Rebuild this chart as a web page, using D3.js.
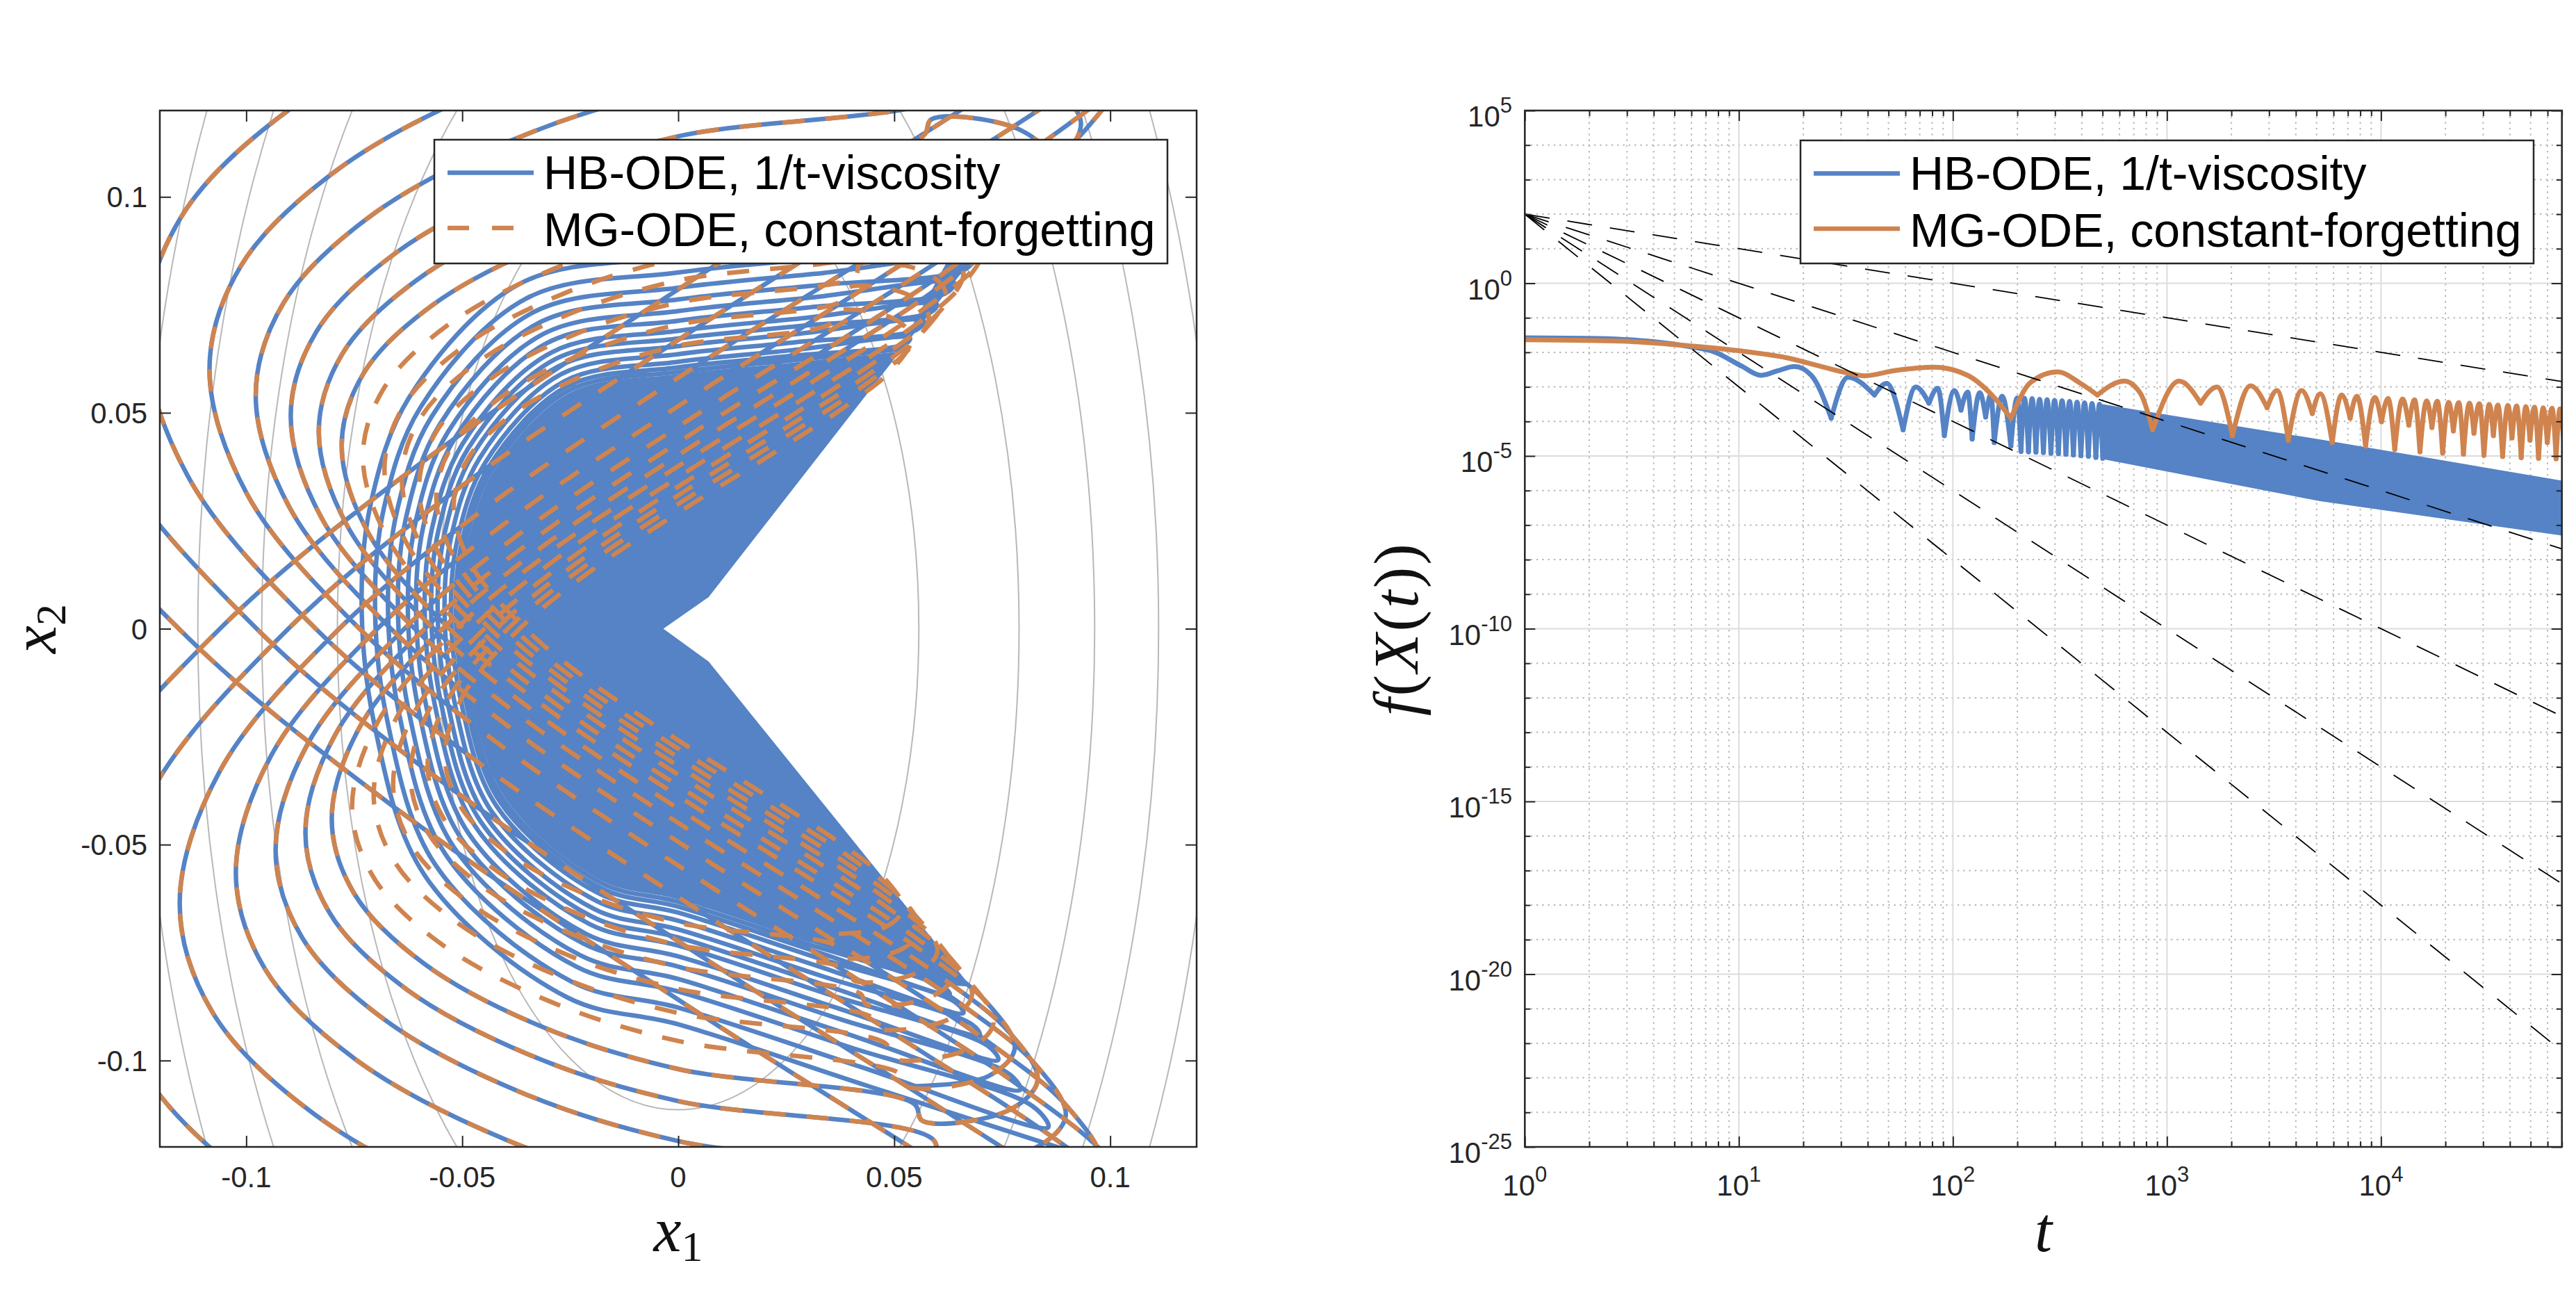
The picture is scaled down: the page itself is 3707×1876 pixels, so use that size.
<!DOCTYPE html>
<html>
<head>
<meta charset="utf-8">
<script src="https://cdn.jsdelivr.net/npm/d3@7/dist/d3.min.js"></script>
<style>
  html, body { margin: 0; padding: 0; background: #ffffff; }
  svg { display: block; }
</style>
</head>
<body>
<svg id="fig" width="3707" height="1876" xmlns="http://www.w3.org/2000/svg"></svg>
<script>
// ===================== DATA =====================
// ---- Left panel: phase plane ----
// level sets of f: axis-aligned ellipses, semi-axes in x1 and x2
const contourRx = [0.0557, 0.0789, 0.0964, 0.1112, 0.1245];
const contourRy = [0.1114, 0.1578, 0.1928, 0.2224, 0.2490];

// outline of one oscillation pass, in units of its amplitudes (x1/A, x2/B):
// upper-right end -> round the left lobe -> lower-right end (with the small end hook)
const passShape = [[0.68,1.0],[0.0,0.927],[-0.39,0.839],[-0.73,0.707],[-0.934,0.559],[-1.0,0.40],
  [-0.92,0.208],[-0.68,0.0],[-0.39,-0.174],[0.02,-0.375],[0.42,-0.559],[0.73,-0.707],
  [0.92,-0.819],[1.0,-0.917],[0.92,-0.978],[0.68,-1.0]];

// early passes where both trajectories coincide (A: x1 amplitude, B: x2 amplitude, lobe +1 upper / -1 lower)
const sharedA    = [0.170, 0.156, 0.1435, 0.1327, 0.1234, 0.1154, 0.1085, 0.1024, 0.0978, 0.0932, 0.0897, 0.0863, 0.0832, 0.0802, 0.0779];
const sharedB    = [0.235, 0.215, 0.198, 0.183, 0.170, 0.159, 0.150, 0.141, 0.135, 0.128, 0.123, 0.118, 0.114, 0.110, 0.106];
const sharedLobe = [1, -1, 1, -1, 1, -1, 1, -1, 1, -1, 1, -1, 1, -1, 1];

// later passes of the MG-ODE trajectory only
const mgA    = [0.0755, 0.073, 0.0705, 0.068, 0.066, 0.064, 0.062, 0.060, 0.058, 0.056, 0.054, 0.052];
const mgB    = [0.103, 0.0995, 0.096, 0.0925, 0.090, 0.087, 0.0845, 0.0815, 0.079, 0.076, 0.0735, 0.0707];
const mgLobe = [-1, 1, -1, 1, -1, 1, -1, 1, -1, 1, -1, 1];

// later passes of the HB-ODE trajectory only: U-shaped arcs (x1/A, x2/A)
const hbShape = [[1.02,1.28],[0.5,1.226],[0,1.175],[-0.5,1.09],[-0.85,0.73],[-0.97,0.4],[-1.0,0.1],
  [-0.96,-0.3],[-0.8,-0.78],[-0.35,-1.165],[0,-1.25],[0.6,-1.445],[1.22,-1.645]];
const hbA = [0.0733, 0.0702, 0.0672, 0.0649, 0.0626, 0.0607, 0.0587, 0.0572, 0.0557, 0.0541, 0.0526, 0.0515, 0.0506];

// fully covered region of the HB-ODE trajectory: its left arc (x1, x2) and the notch edges
const hbCoreArc = [[0.051,0.064],[0.025,0.0613],[0.0,0.0588],[-0.025,0.0545],[-0.0425,0.0365],
  [-0.0485,0.02],[-0.0503,0.005],[-0.048,-0.015],[-0.040,-0.039],[-0.0175,-0.0583],[0.0,-0.0625],
  [0.03,-0.0723],[0.061,-0.0823]];
const hbCoreNotch = [[0.0674,-0.0827],[0.0069,-0.0077],[-0.0037,0.0],[0.0069,0.0074],[0.0666,0.084],
  [0.078,0.099],[0.070,0.099]];

const ticksL = [-0.1, -0.05, 0, 0.05, 0.1];
const tickLabelsL = ["-0.1", "-0.05", "0", "0.05", "0.1"];

// ---- Right panel: f(X(t)) vs t ----
const hbT = [1, 1.98, 4.06, 5.79, 7.73, 10.3, 12.7, 15.2, 18.2, 21.8,
  27.0, 32.3, 43.0, 49.0, 58.5, 67.1, 77.3, 84.9, 91.2, 101.6,
  109.1, 117.2, 123, 133.4, 142.2, 150.3, 156, 169.8, 186.6,
  199.5, 208, 216, 225.4, 234.4, 244.3, 254.1, 264.8, 275.4, 287.1,
  298.5, 311.2, 323.6, 337.3, 350.8, 365.6, 380.2, 396.3, 412.1, 429.5,
  446.7, 465.6, 484.2, 501.2];
const hbF = [0.0263, 0.0255, 0.0202, 0.01486, 0.01012, 0.0040, 0.00216, 0.00294, 0.00388, 0.00216,
  1.24e-4, 0.00191, 5.81e-4, 0.00126, 5.73e-5, 9.98e-4, 3.38e-4, 9.2e-4, 3.89e-5, 7.9e-4,
  2.13e-4, 7.1e-4, 3.09e-5, 6.78e-4, 1.34e-4, 5.81e-4, 2.45e-5, 5.37e-4, 1.94e-5,
  4.79e-4, 1.35e-5, 4.68e-4, 1.32e-5, 4.57e-4, 1.29e-5, 4.37e-4, 1.26e-5, 4.27e-4, 1.2e-5,
  4.07e-4, 1.17e-5, 3.98e-4, 1.12e-5, 3.8e-4, 1.07e-5, 3.63e-4, 1.02e-5, 3.47e-4, 9.8e-6,
  3.31e-4, 9.1e-6, 3.16e-4, 8.5e-6];
// dense oscillation band of HB-ODE at late times
const hbBandT      = [501.2, 5200, 70000];
const hbBandTop    = [3.0e-4, 2.86e-5, 1.84e-6];
const hbBandBottom = [8.5e-6, 5.15e-7, 5.2e-8];

const mgT = [1, 2.83, 5.79, 10.3, 16.9, 24.3, 32.3, 38.6, 53.2, 81.8,
  117.2, 150.3, 186.6, 231, 307.6, 395, 473, 631, 754, 857,
  1140, 1436, 1714, 2023, 2455, 2938, 3266, 3690, 4256, 4775,
  5200, 5916, 6546, 7178, 7713, 8472, 9355, 10050, 10790, 11590,
  12600, 13490, 14350, 15200, 16330, 17300, 18320, 19410, 20700, 21780,
  23070, 24270, 25880, 27180, 28790, 30270, 32060, 33500, 35160, 36980,
  39170, 40920, 42990, 45190, 47530, 49660, 52120, 54450, 57280, 59840,
  62950, 65770, 68550, 71620];
const mgF = [0.0233, 0.0212, 0.01556, 0.0109, 0.00687, 0.00388, 0.00252, 0.00209, 0.00294, 0.00371,
  0.00216, 6.28e-4, 1.24e-4, 0.00136, 0.00272, 0.00126, 5.81e-4, 0.00147, 6.28e-4, 5.73e-5,
  0.00147, 3.38e-4, 9.98e-4, 3.89e-5, 0.00108, 2.48e-4, 7.9e-4, 2.86e-5, 7.9e-4, 1.69e-4,
  6.3e-4, 2.45e-5, 5.81e-4, 1.24e-4, 5.37e-4, 1.94e-5, 4.97e-4, 9.8e-5, 4.6e-4, 1.54e-5,
  4.47e-4, 7.8e-5, 4.2e-4, 1.32e-5, 3.94e-4, 6.7e-5, 3.83e-4, 1.22e-5, 3.6e-4, 5.3e-5,
  3.49e-4, 1.13e-5, 3.38e-4, 4.54e-5, 3.28e-4, 1.05e-5, 3.13e-4, 3.89e-5, 2.99e-4, 9.7e-6,
  2.9e-4, 3.33e-5, 2.81e-4, 8.97e-6, 2.69e-4, 2.86e-5, 2.6e-4, 8.57e-6, 2.48e-4, 2.45e-5,
  2.41e-4, 8.3e-6, 2.3e-4, 2.1e-5];

// dashed reference rates C / t^p (end points)
const refT = [1, 7e4];
const refF = [[100, 1.43e-3], [100, 2.04e-8], [100, 2.92e-13], [100, 4.16e-18], [100, 5.95e-23]];

const xTickExpR = [0, 1, 2, 3, 4];
const yTickExpR = [5, 0, -5, -10, -15, -20, -25];

const legendLabels = ["HB-ODE, 1/t-viscosity", "MG-ODE, constant-forgetting"];

// ===================== STYLE =====================
const BLUE = "#5583c5", ORANGE = "#cf844f", AX = "#262626";
const SANS = "'Liberation Sans', Arial, Helvetica, sans-serif";
const SERIF = "'Liberation Serif', 'Times New Roman', serif";

const svg = d3.select("#fig");
svg.append("rect").attr("width", 3707).attr("height", 1876).attr("fill", "#fff");
const defs = svg.append("defs");

// ===================== LEFT PANEL =====================
const PL = {x0: 230, x1: 1722, y0: 159, y1: 1650};
const xL = d3.scaleLinear().domain([-0.12, 0.12]).range([PL.x0, PL.x1]);
const yL = d3.scaleLinear().domain([-0.12, 0.12]).range([PL.y1, PL.y0]);
defs.append("clipPath").attr("id", "clipL").append("rect")
  .attr("x", PL.x0).attr("y", PL.y0).attr("width", PL.x1 - PL.x0).attr("height", PL.y1 - PL.y0);

const gL = svg.append("g").attr("clip-path", "url(#clipL)");
gL.selectAll("ellipse").data(contourRx).join("ellipse")
  .attr("cx", xL(0)).attr("cy", yL(0))
  .attr("rx", d => xL(d) - xL(0))
  .attr("ry", (d, i) => yL(0) - yL(contourRy[i]))
  .attr("fill", "none").attr("stroke", "#b8b8b8").attr("stroke-width", 2);

const passPts = (A, B, s) => passShape.map(([u, v]) => [u * A, s * v * B]);
const sharedPts = sharedA.flatMap((A, i) => passPts(A, sharedB[i], sharedLobe[i]));
const mgPts = mgA.flatMap((A, i) => passPts(A, mgB[i], mgLobe[i]));
const hbPts = hbA.flatMap((A, i) => {
  const p = hbShape.map(([u, w]) => [u * A, w * A]);
  return i % 2 === 0 ? p.reverse() : p;
});

const lineL = d3.line().x(d => xL(d[0])).y(d => yL(d[1])).curve(d3.curveCatmullRom.alpha(0.5));
const strokeStyle = (sel, color, w) => sel.attr("fill", "none").attr("stroke", color)
  .attr("stroke-width", w).attr("stroke-linejoin", "round").attr("stroke-linecap", "round");

strokeStyle(gL.append("path").attr("d", lineL(sharedPts)), BLUE, 6.5);
strokeStyle(gL.append("path").attr("d", lineL(hbPts)), BLUE, 6.5);
gL.append("path")
  .attr("d", lineL(hbCoreArc) + hbCoreNotch.map(p => `L${xL(p[0])},${yL(p[1])}`).join("") + "Z")
  .attr("fill", BLUE).attr("stroke", BLUE).attr("stroke-width", 2);
strokeStyle(gL.append("path").attr("d", lineL(sharedPts.concat(mgPts))), ORANGE, 6.5)
  .attr("stroke-linecap", "butt").attr("stroke-dasharray", "32,30");

// box
svg.append("rect").attr("x", PL.x0).attr("y", PL.y0).attr("width", PL.x1 - PL.x0).attr("height", PL.y1 - PL.y0)
  .attr("fill", "none").attr("stroke", AX).attr("stroke-width", 2.5);

function tickAxis(gen, tx, ty) {
  const g = svg.append("g").attr("transform", `translate(${tx},${ty})`).call(gen);
  g.select(".domain").remove();
  g.selectAll(".tick text").remove();
  g.selectAll(".tick line").attr("stroke", AX).attr("stroke-width", 2);
  return g;
}
tickAxis(d3.axisBottom(xL).tickValues(ticksL).tickSize(-16), 0, PL.y1);
tickAxis(d3.axisTop(xL).tickValues(ticksL).tickSize(-16), 0, PL.y0);
tickAxis(d3.axisLeft(yL).tickValues(ticksL).tickSize(-16), PL.x0, 0);
tickAxis(d3.axisRight(yL).tickValues(ticksL).tickSize(-16), PL.x1, 0);

svg.append("g").selectAll("text").data(ticksL).join("text")
  .attr("x", d => xL(d)).attr("y", 1708).attr("text-anchor", "middle")
  .attr("font-family", SANS).attr("font-size", 42).attr("fill", AX)
  .text((d, i) => tickLabelsL[i]);
svg.append("g").selectAll("text").data(ticksL).join("text")
  .attr("x", 212).attr("y", d => yL(d) + 15).attr("text-anchor", "end")
  .attr("font-family", SANS).attr("font-size", 42).attr("fill", AX)
  .text((d, i) => tickLabelsL[i]);

// axis labels (left)
{
  const t = svg.append("text").attr("x", (PL.x0 + PL.x1) / 2).attr("y", 1800).attr("text-anchor", "middle")
    .attr("font-family", SERIF).attr("font-size", 90).attr("fill", "#111");
  t.append("tspan").attr("font-style", "italic").text("x");
  t.append("tspan").attr("font-size", 62).attr("dy", 14).text("1");
  const t2 = svg.append("text").attr("transform", `translate(80,${(PL.y0 + PL.y1) / 2}) rotate(-90)`)
    .attr("text-anchor", "middle").attr("font-family", SERIF).attr("font-size", 90).attr("fill", "#111");
  t2.append("tspan").attr("font-style", "italic").text("x");
  t2.append("tspan").attr("font-size", 62).attr("dy", 14).text("2");
}

// legend
function legend(x, y, w, h, dashedSecond) {
  const g = svg.append("g");
  g.append("rect").attr("x", x).attr("y", y).attr("width", w).attr("height", h)
    .attr("fill", "#fff").attr("stroke", AX).attr("stroke-width", 2.5);
  const lx0 = x + 19, lx1 = x + 143, tx = x + 157;
  const rows = [y + 47.5, y + 127];
  g.append("line").attr("x1", lx0).attr("x2", lx1).attr("y1", rows[0]).attr("y2", rows[0])
    .attr("stroke", BLUE).attr("stroke-width", 6.5);
  const l2 = g.append("line").attr("x1", lx0).attr("x2", lx1).attr("y1", rows[1]).attr("y2", rows[1])
    .attr("stroke", ORANGE).attr("stroke-width", 6.5);
  if (dashedSecond) l2.attr("stroke-dasharray", "31,33");
  legendLabels.forEach((s, i) => {
    g.append("text").attr("x", tx).attr("y", rows[i] + (i === 0 ? 23.5 : 26))
      .attr("font-family", SANS).attr("font-size", 68).attr("fill", "#000").text(s);
  });
}
legend(625, 201, 1055, 178, true);

// ===================== RIGHT PANEL =====================
const PR = {x0: 2194.3, x1: 3686.7, y0: 159, y1: 1650};
const xR = d3.scaleLog().domain([1, 7e4]).range([PR.x0, PR.x1]);
const yR = d3.scaleLog().domain([1e-25, 1e5]).range([PR.y1, PR.y0]);
defs.append("clipPath").attr("id", "clipR").append("rect")
  .attr("x", PR.x0).attr("y", PR.y0).attr("width", PR.x1 - PR.x0).attr("height", PR.y1 - PR.y0);

const xMajor = xTickExpR.map(e => Math.pow(10, e));
const xMinor = [];
xTickExpR.forEach(e => { for (let m = 2; m <= 9; m++) { const v = m * Math.pow(10, e); if (v <= 7e4) xMinor.push(v); } });
const yMajor = yTickExpR.map(e => Math.pow(10, e));
const yMinor = d3.range(-25, 6).filter(e => e % 5 !== 0).map(e => Math.pow(10, e));

const grid = svg.append("g").attr("clip-path", "url(#clipR)");
grid.selectAll("line.xmin").data(xMinor).join("line")
  .attr("x1", d => xR(d)).attr("x2", d => xR(d)).attr("y1", PR.y0).attr("y2", PR.y1)
  .attr("stroke", "#b9b9b9").attr("stroke-width", 2).attr("stroke-dasharray", "2.5,5.8");
grid.selectAll("line.ymin").data(yMinor).join("line")
  .attr("y1", d => yR(d)).attr("y2", d => yR(d)).attr("x1", PR.x0).attr("x2", PR.x1)
  .attr("stroke", "#b9b9b9").attr("stroke-width", 2).attr("stroke-dasharray", "2.5,5.8");
grid.selectAll("line.xmaj").data(xMajor.slice(1)).join("line")
  .attr("x1", d => xR(d)).attr("x2", d => xR(d)).attr("y1", PR.y0).attr("y2", PR.y1)
  .attr("stroke", "#dcdcdc").attr("stroke-width", 2);
grid.selectAll("line.ymaj").data(yMajor.slice(1, -1)).join("line")
  .attr("y1", d => yR(d)).attr("y2", d => yR(d)).attr("x1", PR.x0).attr("x2", PR.x1)
  .attr("stroke", "#dcdcdc").attr("stroke-width", 2);

const gR = svg.append("g").attr("clip-path", "url(#clipR)");
// split a series at its sharp dips so the dips stay cusps and the tops stay round
function arcSegments(ts, fs) {
  const pts = ts.map((t, i) => [t, fs[i]]);
  const segs = []; let cur = [pts[0]];
  for (let i = 1; i < pts.length; i++) {
    cur.push(pts[i]);
    if (i < pts.length - 1) {
      const l = Math.log10(pts[i][1]);
      if (Math.log10(pts[i - 1][1]) - l > 0.3 && Math.log10(pts[i + 1][1]) - l > 0.3) { segs.push(cur); cur = [pts[i]]; }
    }
  }
  segs.push(cur);
  return segs;
}
const lineR = d3.line().x(d => xR(d[0])).y(d => yR(d[1])).curve(d3.curveMonotoneX);

arcSegments(hbT, hbF).forEach(s => strokeStyle(gR.append("path").attr("d", lineR(s)), BLUE, 7));
gR.append("path")
  .attr("d", d3.area().x(d => xR(d)).y0((d, i) => yR(hbBandBottom[i])).y1((d, i) => yR(hbBandTop[i]))(hbBandT))
  .attr("fill", BLUE).attr("stroke", BLUE).attr("stroke-width", 2);
arcSegments(mgT, mgF).forEach(s => strokeStyle(gR.append("path").attr("d", lineR(s)), ORANGE, 7));

gR.selectAll("line.ref").data(refF).join("line")
  .attr("x1", xR(refT[0])).attr("x2", xR(refT[1]))
  .attr("y1", d => yR(d[0])).attr("y2", d => yR(d[1]))
  .attr("stroke", "#000").attr("stroke-width", 1.8).attr("stroke-dasharray", "36,26");

svg.append("rect").attr("x", PR.x0).attr("y", PR.y0).attr("width", PR.x1 - PR.x0).attr("height", PR.y1 - PR.y0)
  .attr("fill", "none").attr("stroke", AX).attr("stroke-width", 2.5);

tickAxis(d3.axisBottom(xR).tickValues(xMajor).tickSize(-15), 0, PR.y1);
tickAxis(d3.axisBottom(xR).tickValues(xMinor).tickSize(-8), 0, PR.y1);
tickAxis(d3.axisTop(xR).tickValues(xMajor).tickSize(-15), 0, PR.y0);
tickAxis(d3.axisTop(xR).tickValues(xMinor).tickSize(-8), 0, PR.y0);
tickAxis(d3.axisLeft(yR).tickValues(yMajor).tickSize(-15), PR.x0, 0);
tickAxis(d3.axisLeft(yR).tickValues(yMinor).tickSize(-8), PR.x0, 0);
tickAxis(d3.axisRight(yR).tickValues(yMajor).tickSize(-15), PR.x1, 0);
tickAxis(d3.axisRight(yR).tickValues(yMinor).tickSize(-8), PR.x1, 0);

xTickExpR.forEach(e => {
  const t = svg.append("text").attr("x", xR(Math.pow(10, e))).attr("y", 1720).attr("text-anchor", "middle")
    .attr("font-family", SANS).attr("font-size", 42).attr("fill", AX);
  t.append("tspan").text("10");
  t.append("tspan").attr("dy", -20).attr("font-size", 31).text(String(e));
});
yTickExpR.forEach(e => {
  const t = svg.append("text").attr("x", 2176).attr("y", yR(Math.pow(10, e)) + 23).attr("text-anchor", "end")
    .attr("font-family", SANS).attr("font-size", 42).attr("fill", AX);
  t.append("tspan").text("10");
  t.append("tspan").attr("dy", -20).attr("font-size", 31).text(String(e));
});

// axis labels (right)
{
  svg.append("text").attr("x", (PR.x0 + PR.x1) / 2).attr("y", 1800).attr("text-anchor", "middle")
    .attr("font-family", SERIF).attr("font-size", 90).attr("font-style", "italic").attr("fill", "#111").text("t");
  const t = svg.append("text").attr("transform", `translate(2040,${(PR.y0 + PR.y1) / 2}) rotate(-90)`)
    .attr("text-anchor", "middle").attr("font-family", SERIF).attr("font-size", 92).attr("fill", "#111")
    .attr("letter-spacing", 3);
  [["f", true], ["(", false], ["X", true], ["(", false], ["t", true], ["))", false]].forEach(([s, it]) => {
    t.append("tspan").attr("font-style", it ? "italic" : "normal").text(s);
  });
}

legend(2591, 202, 1055, 177, false);
</script>
</body>
</html>
